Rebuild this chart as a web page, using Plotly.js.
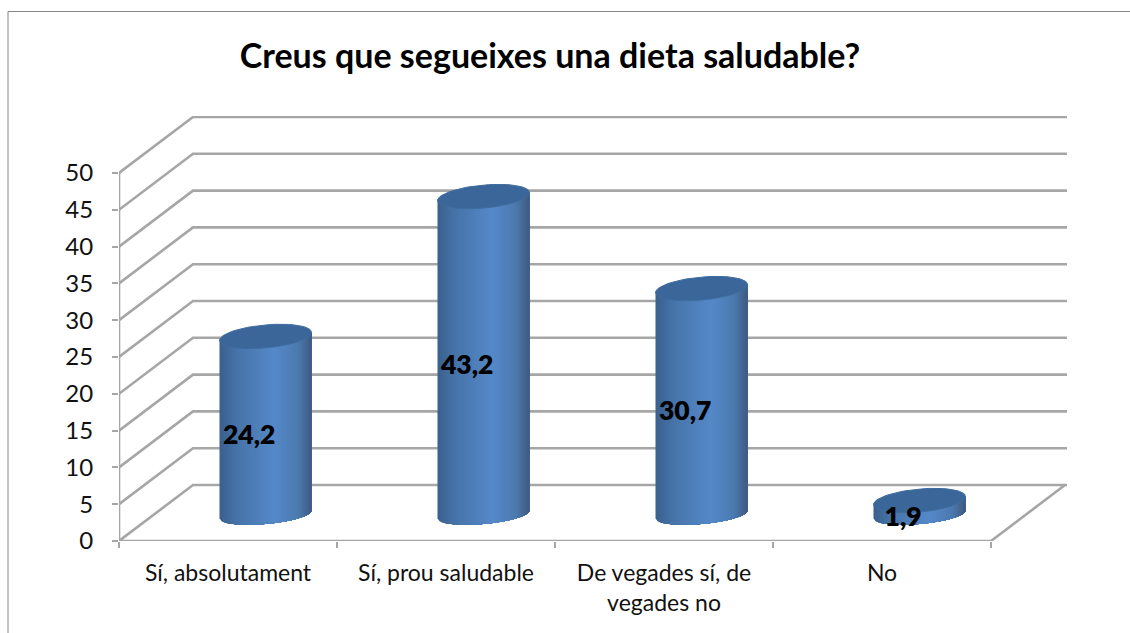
<!DOCTYPE html>
<html><head><meta charset="utf-8">
<script src="https://cdn.plot.ly/plotly-3.0.1.min.js"></script>
<style>html,body{margin:0;padding:0;background:#fff;overflow:hidden}#c{width:1130px;height:633px}</style>
</head><body><div id="c"></div>
<script>
const categories = ["Sí, absolutament","Sí, prou saludable","De vegades sí, de<br>vegades no","No"];
const values = [24.2,43.2,30.7,1.9];
const yTicks = [0,5,10,15,20,25,30,35,40,45,50];
const titleText = "Creus que segueixes una dieta saludable?";

const W=1130,H=633,L=119,R=1067,T=116,B=541;
const pxCat=218, pxVal=7.36;
const xMax=(R-L)/pxCat, yMax=(B-T)/pxVal;
const depthX=74/pxCat, depthY=56/pxVal;
const GRID='#a6a6a6', FONT='Lato, Carlito, "Open Sans", sans-serif';
const cylOffset=0.172, cylA=46/pxCat, cylShear=4/pxVal, cylH=11.5/pxVal, cylLow=9.5/pxVal, cylBase=26.5/pxVal;
const stops=[[-1,[58,96,142]],[-0.55,[72,118,172]],[0.2,[84,136,200]],[0.7,[76,122,176]],[1,[62,90,128]]];
function shade(u){
  for(let i=0;i<stops.length-1;i++){
    const a=stops[i],b=stops[i+1];
    if(u<=b[0]){const f=(u-a[0])/(b[0]-a[0]);
      return 'rgb('+a[1].map((c,j)=>Math.round(c+(b[1][j]-c)*f)).join(',')+')';}
  }
  return 'rgb(62,90,128)';
}
const traces=[];
function line(x,y,w,col){traces.push({type:'scatter',mode:'lines',x:x,y:y,cliponaxis:false,hoverinfo:'skip',
  line:{color:col||GRID,width:w||2.6,simplify:false}});}

// axis lines, walls and gridlines
yTicks.forEach(v=>line([0,depthX,xMax],[v,v+depthY,v+depthY]));
line([0,0],[0,50]);
line([0,4,4+depthX],[0,0,depthY]);

// cylinders: painter's bands, each one reaching to the right edge so no seams show
const N=46, M=46;
values.forEach((v,i)=>{
  const cx=i+0.5+cylOffset, c0=cylBase, c1=cylBase+v;
  const low=u=>c0+cylShear*u-cylLow*Math.sqrt(Math.max(0,1-u*u));
  const top=u=>c1+cylShear*u;
  for(let k=0;k<N;k++){
    const u1=-1+2*k/N, um=u1+1/N;
    const xs=[],ys=[];
    for(let m=0;m<=M;m++){const u=u1+(1-u1)*m/M; xs.push(cx+cylA*u); ys.push(low(u));}
    xs.push(cx+cylA, cx+cylA*u1, cx+cylA*u1);
    ys.push(top(1), top(u1), low(u1));
    traces.push({type:'scatter',mode:'none',fill:'toself',fillcolor:shade(um),cliponaxis:false,hoverinfo:'skip',x:xs,y:ys});
  }
  const ex=[],ey=[];
  for(let d=0;d<=360;d+=6){const t=d*Math.PI/180;
    ex.push(cx+cylA*Math.cos(t)); ey.push(c1+cylShear*Math.cos(t)+cylH*Math.sin(t));}
  traces.push({type:'scatter',mode:'lines',fill:'toself',fillcolor:'#3b6699',cliponaxis:false,hoverinfo:'skip',
    line:{color:'#3f6c9f',width:1},x:ex,y:ey});
});

// data labels
traces.push({type:'scatter',mode:'text',cliponaxis:false,hoverinfo:'skip',
  x:values.map((v,i)=>i+0.5+0.097),
  y:values.map(v=>v/2+2.0),
  text:values.map(v=>String(v).replace('.',',')),
  textfont:{family:FONT,size:26.5,color:'#000',weight:800},textposition:'middle center'});

// overlay axis that carries the category boundary ticks
traces.push({type:'scatter',mode:'none',x:[0],y:[0],xaxis:'x2',hoverinfo:'skip'});

const px=x=>(x-L)/(R-L), py=y=>(B-y)/(B-T);
const frame={type:'line',xref:'paper',yref:'paper',line:{color:'#868686',width:1}};
Plotly.newPlot('c',traces,{
  width:W,height:H,showlegend:false,paper_bgcolor:'#fff',plot_bgcolor:'rgba(0,0,0,0)',
  margin:{l:L,r:W-R,t:T,b:H-B,pad:0},
  title:{text:'<b>'+titleText+'</b>',x:(238+862)/2/W,xanchor:'center',y:1-56/H,yanchor:'middle',
    font:{family:FONT,size:34,color:'#000'}},
  xaxis:{range:[0,xMax],showgrid:false,zeroline:false,showline:false,fixedrange:true,
    tickmode:'array',tickvals:categories.map((c,i)=>i+0.5),ticktext:categories,ticks:'',
    ticklabelstandoff:16,tickfont:{family:FONT,size:23,color:'#111'}},
  xaxis2:{overlaying:'x',anchor:'y',side:'bottom',range:[0,xMax],showgrid:false,zeroline:false,showline:false,
    tickmode:'array',tickvals:[0,1,2,3,4],ticktext:['','','','',''],ticks:'outside',ticklen:6,tickwidth:1.5,tickcolor:GRID},
  yaxis:{range:[0,yMax],showgrid:false,zeroline:false,showline:false,fixedrange:true,
    tickmode:'array',tickvals:yTicks,ticktext:yTicks.map(String),ticks:'outside',ticklen:6,tickwidth:2,tickcolor:GRID,
    ticklabelstandoff:14,tickfont:{family:FONT,size:24,color:'#111'}},
  shapes:[
    Object.assign({},frame,{x0:px(8),x1:px(8),y0:py(11.5),y1:py(H)}),
    Object.assign({},frame,{x0:px(8),x1:px(W),y0:py(11.5),y1:py(11.5)})
  ]
},{displayModeBar:false,staticPlot:true});
</script></body></html>
